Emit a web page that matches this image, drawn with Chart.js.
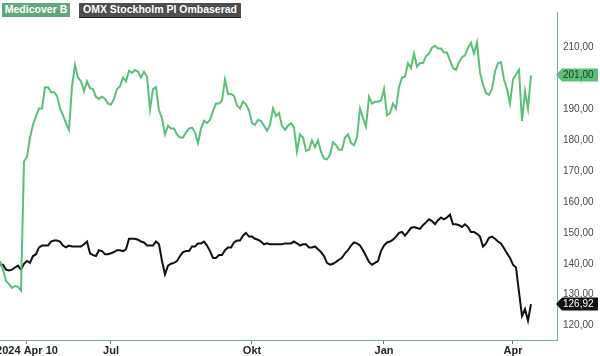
<!DOCTYPE html>
<html><head><meta charset="utf-8">
<script src="https://cdn.jsdelivr.net/npm/chart.js@4/dist/chart.umd.min.js"></script>
<style>
html,body{margin:0;padding:0;background:#fff;}
#wrap{position:relative;width:600px;height:356px;}
.tag{position:absolute;top:3px;height:14px;line-height:14px;font:bold 10.5px "Liberation Sans",Arial,sans-serif;color:#fff;text-align:center;white-space:nowrap;}
</style></head>
<body>
<div id="wrap">
<canvas id="c" width="600" height="356"></canvas>
<div class="tag" style="left:2px;width:68px;background:#62a87e;">Medicover B</div>
<div class="tag" style="left:79px;width:162px;background:#4e4e4e;border-bottom:1px solid #222;">OMX Stockholm PI Ombaserad</div>
</div>
<script>
const seriesNames = ['Medicover B', 'OMX Stockholm PI Ombaserad'];
const xTickLabels = ['2024 Apr 10', 'Jul', 'Okt', 'Jan', 'Apr'];
const xTickIndex = [9, 37, 84, 128, 171];
const yTickValues = [120, 130, 140, 150, 160, 170, 180, 190, 200, 210];
const medicover = [
140.9,138.1,134.4,133.4,132.2,132.8,132.5,131.3,173.1,174.7,
180.9,185.0,187.8,190.3,190.3,197.2,197.2,195.6,195.6,194.4,
190.3,188.1,185.6,183.4,197.5,204.4,200.3,199.1,195.9,199.1,
196.9,196.6,194.1,193.4,194.1,193.4,191.9,191.6,193.4,196.6,
197.5,200.3,199.1,202.5,201.9,202.8,202.2,200.3,202.2,200.6,
190.0,196.6,197.2,189.7,187.2,181.9,184.7,183.8,183.8,181.9,
180.9,180.9,182.5,183.8,184.1,182.5,179.1,183.8,186.3,185.6,
186.6,189.4,191.9,191.9,192.8,199.7,195.0,195.0,194.4,191.3,
190.3,192.5,191.6,189.7,185.6,185.0,186.6,186.3,184.7,183.1,
185.0,190.3,187.8,188.8,184.7,183.4,184.7,185.6,184.1,176.3,
181.9,180.9,176.6,176.9,180.0,177.8,180.0,176.3,174.1,173.8,
175.3,179.4,178.4,176.9,176.9,180.9,181.9,179.1,178.4,180.9,
190.3,187.2,184.4,194.1,191.9,192.5,192.5,192.8,196.6,188.1,
188.8,191.9,190.3,197.2,200.3,200.6,205.0,203.4,208.1,203.8,
205.0,205.0,207.2,208.1,210.0,210.6,209.7,209.7,208.4,208.4,
205.9,203.4,202.8,205.3,206.9,207.5,210.0,211.6,208.1,211.6,
201.9,198.1,195.3,194.7,196.6,202.2,205.0,205.3,199.7,196.6,
191.9,199.7,201.3,202.8,186.3,195.9,190.3,201.0];
const omx = [
139.7,139.7,138.1,137.8,138.1,138.8,139.4,138.1,140.0,140.9,
140.3,142.5,143.1,145.3,145.9,145.9,145.9,147.2,147.5,147.5,
147.2,145.9,145.3,145.9,145.6,145.6,145.6,145.6,146.3,147.2,
143.4,142.8,142.5,144.4,144.1,143.1,143.1,143.4,143.8,144.4,
144.4,144.1,144.7,148.1,148.1,148.1,147.8,147.2,146.9,145.9,
145.9,145.9,147.2,146.3,140.9,136.6,139.4,140.0,140.3,140.9,
142.5,143.8,144.1,144.1,145.6,145.6,146.6,146.6,147.2,145.9,
144.1,141.9,141.9,142.8,142.8,144.4,145.3,145.3,146.9,147.5,
147.5,149.1,150.0,148.8,148.8,148.1,147.8,147.2,146.3,146.6,
146.3,146.3,146.3,146.3,146.3,146.6,146.6,146.6,147.2,146.6,
145.9,146.3,146.3,145.3,145.3,145.6,144.7,143.8,142.5,140.3,
139.7,140.0,140.6,141.3,141.9,143.4,144.4,145.9,146.9,146.6,
145.9,144.4,142.5,140.6,139.7,140.3,140.9,144.1,145.9,146.9,
147.2,147.8,148.8,150.0,150.3,149.1,150.3,151.6,151.9,151.6,
151.3,152.5,153.4,154.4,153.8,152.8,154.1,155.0,154.4,155.0,
155.9,152.8,152.8,152.5,151.9,152.8,151.9,150.3,150.3,149.7,
148.8,145.6,146.6,148.4,148.8,148.1,147.2,146.6,145.0,143.4,
141.9,139.7,138.8,130.9,123.1,125.3,121.6,126.92];

const fmt = v => v.toFixed(2).replace('.', ',');
const GREEN = '#5cbf78';
const AXIS = '#7ea7ae';

const badgePlugin = {
  id: 'badges',
  afterDraw(chart) {
    const ctx = chart.ctx, y = chart.scales.y, area = chart.chartArea;
    const items = [
      {v: medicover[medicover.length-1], bg: GREEN, fg: '#1d3b26'},
      {v: omx[omx.length-1], bg: '#111', fg: '#fff'}
    ];
    ctx.save();
    ctx.font = '10px "Liberation Sans", Arial, sans-serif';
    items.forEach(it => {
      const py = Math.round(y.getPixelForValue(it.v));
      const x0 = area.right - 1, h = 13;
      ctx.fillStyle = it.bg;
      ctx.beginPath();
      ctx.moveTo(x0, py);
      ctx.lineTo(x0 + 6, py - h/2);
      ctx.lineTo(598, py - h/2);
      ctx.lineTo(598, py + h/2);
      ctx.lineTo(x0 + 6, py + h/2);
      ctx.closePath();
      ctx.fill();
      ctx.fillStyle = it.fg;
      ctx.textAlign = 'left';
      ctx.textBaseline = 'middle';
      ctx.fillText(fmt(it.v), 563, py + 0.5);
    });
    ctx.restore();
  }
};

new Chart(document.getElementById('c'), {
  type: 'line',
  data: {
    datasets: [
      {label: seriesNames[0], data: medicover.map((v,i)=>({x:i,y:v})), borderColor: GREEN, borderWidth: 2, pointRadius: 0, tension: 0},
      {label: seriesNames[1], data: omx.map((v,i)=>({x:i,y:v})), borderColor: '#111', borderWidth: 2, pointRadius: 0, tension: 0}
    ]
  },
  options: {
    responsive: false,
    animation: false,
    layout: {padding: 0},
    plugins: {legend: {display: false}, tooltip: {enabled: false}},
    scales: {
      x: {
        type: 'linear', min: 0, max: 185.67,
        afterBuildTicks: s => { s.ticks = xTickIndex.map(v => ({value: v})); },
        afterFit: s => { s.height = 16; s.paddingLeft = 0; s.paddingRight = 0; },
        grid: {drawOnChartArea: false, tickLength: 4, tickWidth: 1,
               tickColor: c => c.index === 0 ? '#c9587a' : '#3f8a94'},
        border: {display: true, color: AXIS, width: 1},
        ticks: {
          autoSkip: false, maxRotation: 0, padding: 0,
          color: '#222', font: {family: '"Liberation Sans", Arial, sans-serif', size: 11, weight: 'bold'},
          callback: (v, i) => xTickLabels[i]
        }
      },
      y: {
        position: 'right', min: 115.3, max: 221.56,
        afterBuildTicks: s => { s.ticks = yTickValues.map(v => ({value: v})); },
        afterFit: s => { s.width = 43; },
        grid: {display: false, drawTicks: false},
        border: {display: true, color: AXIS, width: 1},
        ticks: {
          padding: 6, color: '#4a4650',
          font: {family: '"Liberation Sans", Arial, sans-serif', size: 10},
          callback: v => fmt(v)
        }
      }
    }
  },
  plugins: [badgePlugin]
});
</script>
</body></html>
